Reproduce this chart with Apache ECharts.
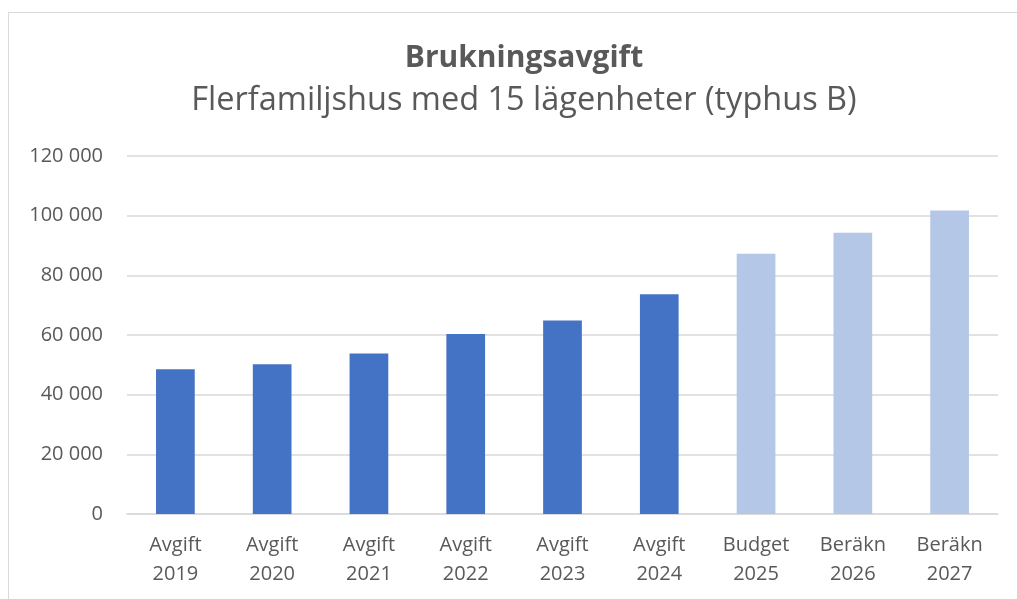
<!DOCTYPE html>
<html>
<head>
<meta charset="utf-8">
<script src="https://cdn.jsdelivr.net/npm/echarts@6/dist/echarts.min.js"></script>
<style>
  html, body { margin: 0; padding: 0; background: #fff; }
  #frame {
    position: absolute; left: 8px; top: 12px; width: 1020px; height: 600px;
    border: 1px solid #d9d9d9; box-sizing: border-box;
  }
  #chart { position: absolute; left: 0; top: 0; width: 1017px; height: 599px; }
</style>
</head>
<body>
<div id="frame"></div>
<div id="chart"></div>
<script>
// categories and values
const categories = [
  "Avgift\n2019", "Avgift\n2020", "Avgift\n2021", "Avgift\n2022", "Avgift\n2023",
  "Avgift\n2024", "Budget\n2025", "Beräkn\n2026", "Beräkn\n2027",
];
const values = [48500, 50200, 53800, 60300, 64900, 73700, 87200, 94300, 101700];
// first 6 are actual fees, rest are budget / estimates
const actualCount = 6;

const textColor = "#595959";
const font = "'Open Sans', sans-serif";

const chart = echarts.init(document.getElementById("chart"));

chart.setOption({
  animation: false,
  title: [
    {
      text: "Brukningsavgift",
      left: 519,
      top: 38,
      textAlign: "center",
      textStyle: { color: textColor, fontFamily: font, fontWeight: "bold", fontSize: 30 },
    },
    {
      text: "Flerfamiljshus med 15 lägenheter (typhus B)",
      left: 519,
      top: 79,
      textAlign: "center",
      textStyle: { color: textColor, fontFamily: font, fontWeight: "normal", fontSize: 32.5 },
    },
  ],
  grid: {
    left: 127,
    right: 19,
    top: 156,
    bottom: 85,
    containLabel: false,
  },
  xAxis: {
    type: "category",
    data: categories,
    axisLine: { lineStyle: { color: "#d9d9d9", width: 1.5 } },
    axisTick: { show: false },
    axisLabel: {
      color: textColor,
      fontFamily: font,
      fontSize: 20,
      lineHeight: 29,
      margin: 17,
    },
  },
  yAxis: {
    type: "value",
    min: 0,
    max: 120000,
    interval: 20000,
    axisLine: { show: false },
    axisTick: { show: false },
    splitLine: { lineStyle: { color: "#d9d9d9", width: 1.5 } },
    axisLabel: {
      color: textColor,
      fontFamily: font,
      fontSize: 20,
      margin: 24,
      formatter: (v) => String(v).replace(/\B(?=(\d{3})+(?!\d))/g, " "),
    },
  },
  series: [
    {
      type: "bar",
      barCategoryGap: "60%",
      data: values.map((v, i) => ({
        value: v,
        itemStyle: { color: i < actualCount ? "#4472c4" : "#b4c7e7" },
      })),
    },
  ],
});
</script>
</body>
</html>
